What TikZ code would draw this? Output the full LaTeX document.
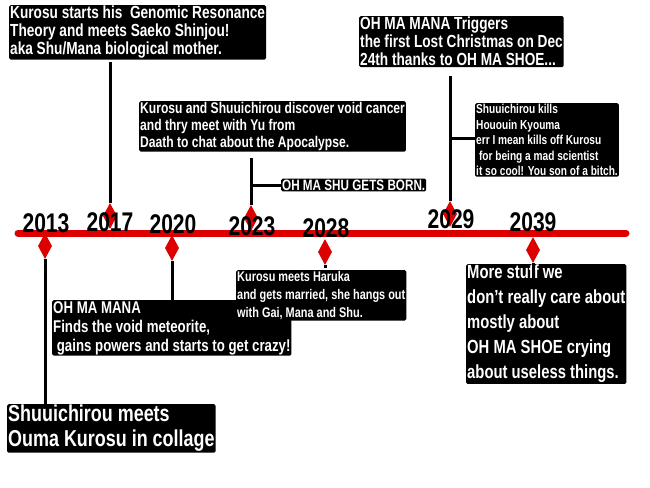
\documentclass[tikz,border=0pt]{standalone}
\usepackage{fontspec}
\setmainfont{Liberation Sans}[FakeStretch=0.78]
\usetikzlibrary{shapes.geometric}
\definecolor{timered}{RGB}{220,0,0}
\tikzset{
	event/.style={fill=black,text=white,font=\bfseries,rounded corners=1.5pt,inner sep=1pt,align=left,anchor=north west},
	year/.style={font=\bfseries\fontsize{27}{27}\selectfont,inner sep=0pt},
	pin/.style={diamond,fill=timered,minimum width=14pt,minimum height=26pt,inner sep=0pt},
	stem/.style={line width=3pt}
}
\begin{document}
\begin{tikzpicture}[x=1pt,y=-1pt]
	%
	% Cadre
	\useasboundingbox (0,0) rectangle (650,487);
	%
	% Marqueurs
	\node[pin] (p13) at (45,246) {};
	\node[pin] (p17) at (110,216) {};
	\node[pin] (p20) at (172,248) {};
	\node[pin] (p23) at (251,218) {};
	\node[pin] (p28) at (325,252) {};
	\node[pin] (p29) at (450,214) {};
	\node[pin] (p39) at (533,250) {};
	%
	% Ligne du temps
	\draw[timered,line width=7pt,line cap=round] (18,233) -- (626,233);
	%
	% Evenements
	\node[event,font=\bfseries\fontsize{17.5}{18}\selectfont] (e17) at (9,5) {Kurosu starts his\ \ Genomic Resonance\\Theory and meets Saeko Shinjou!\\aka Shu/Mana biological mother.};
	\node[event,font=\bfseries\fontsize{17.5}{18}\selectfont] (e29) at (359,16) {OH MA MANA Triggers\\the first Lost Christmas on Dec\\24th thanks to OH MA SHOE...};
	\node[event,font=\bfseries\fontsize{15.5}{17}\selectfont] (e23) at (139,101) {Kurosu and Shuuichirou discover void cancer\\and thry meet with Yu from\\Daath to chat about the Apocalypse.};
	\node[event,font=\bfseries\fontsize{15}{17}\selectfont,anchor=west] (born) at (281,185) {OH MA SHU GETS BORN.};
	\node[event,font=\bfseries\fontsize{13}{15.5}\selectfont] (kill) at (475,103) {Shuuichirou kills\\Hououin Kyouma\\err I mean kills off Kurosu\\\ for being a mad scientist\\it so cool! You son of a bitch.};
	\node[event,font=\bfseries\fontsize{17}{19}\selectfont] (e20) at (52,300) {OH MA MANA\\Finds the void meteorite,\\\ gains powers and starts to get crazy!};
	\node[event,font=\bfseries\fontsize{14}{18}\selectfont] (e28) at (236,270) {Kurosu meets Haruka\\and gets married, she hangs out\\with Gai, Mana and Shu.};
	\node[event,font=\bfseries\fontsize{19}{25}\selectfont] (e39) at (466,264) {More stuff we\\don't really care about\\mostly about\\OH MA SHOE crying\\about useless things.};
	\node[event,font=\bfseries\fontsize{23}{25}\selectfont] (e13) at (7,404) {Shuuichirou meets\\Ouma Kurosu in collage};
	%
	% Tiges
	\coordinate (t13) at (45,405);
	\coordinate (t17) at (110,62);
	\coordinate (t20) at (172,322);
	\coordinate (t23) at (251,158);
	\coordinate (b23) at (251,185);
	\coordinate (t28) at (325,268);
	\coordinate (t29) at (450,76);
	\coordinate (b29) at (450,138);
	\coordinate (t39) at (533,288);
	\draw[stem] (p13) -- (t13);
	\draw[stem] (p17) -- (t17);
	\draw[stem] (p20) -- (t20);
	\draw[stem] (p23) -- (t23);
	\draw[stem] (b23) -- (born.west);
	\draw[stem] (p28) -- (t28);
	\draw[stem] (p29) -- (t29);
	\draw[stem] (b29) -- (b29 -| kill.west);
	\draw[stem] (p39) -- (t39);
	%
	% Annees
	\node[year] (y13) at (46,223) {2013};
	\node[year] (y17) at (110,222) {2017};
	\node[year] (y20) at (173,224) {2020};
	\node[year] (y23) at (252,226) {2023};
	\node[year] (y28) at (326,228) {2028};
	\node[year] (y29) at (451,219) {2029};
	\node[year] (y39) at (533,222) {2039};
\end{tikzpicture}
\end{document}
